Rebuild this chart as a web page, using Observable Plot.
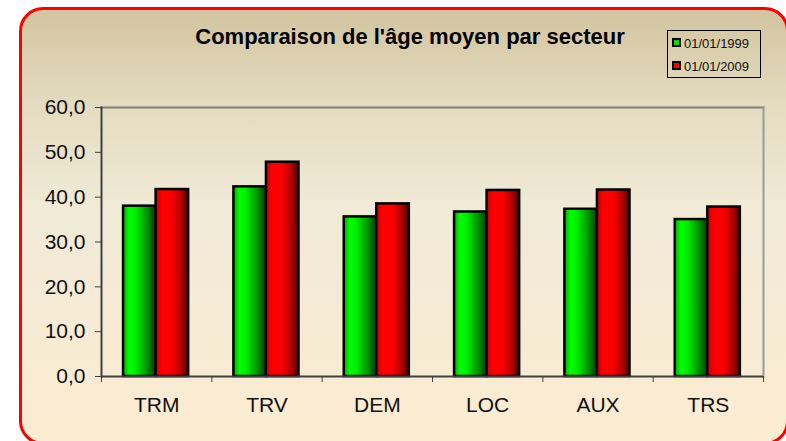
<!DOCTYPE html>
<html>
<head>
<meta charset="utf-8">
<script src="https://cdn.jsdelivr.net/npm/d3@7"></script>
<script src="https://cdn.jsdelivr.net/npm/@observablehq/plot@0.6"></script>
<style>
  html, body { margin: 0; padding: 0; width: 786px; height: 441px; overflow: hidden; background: #fff; }
  #wrap { position: relative; width: 786px; height: 441px; font-family: "Liberation Sans", Arial, sans-serif; }
  #panel { position: absolute; left: 19px; top: 7px; width: 770px; height: 438px; box-sizing: border-box;
    border: 3px solid #ff0000; border-radius: 24px;
    background: linear-gradient(to bottom, #d2c49f 0%, #e4dcc0 22%, #f0ead6 45%, #f4ead6 60%, #fcecd1 100%); }
  #title { position: absolute; left: 410px; top: 26px; transform: translateX(-50%); white-space: nowrap;
    font-weight: bold; font-size: 22px; line-height: 22px; color: #000; }
  #legend { position: absolute; left: 667px; top: 30px; width: 94px; height: 48px; box-sizing: border-box;
    border: 1px solid #000; font-size: 13px; color: #111; }
  .item { position: absolute; left: 4px; height: 14px; line-height: 14px; white-space: nowrap; }
  .sw { display: inline-block; width: 5px; height: 5px; border: 2px solid #000; margin-right: 3px; vertical-align: 1px; }
  #chart { position: absolute; left: 0; top: 0; }
</style>
</head>
<body>
<div id="wrap">
  <div id="panel"></div>
  <div id="chart"></div>
  <div id="title"></div>
  <div id="legend"></div>
</div>
<script>
// ---- data ----
const title = "Comparaison de l'âge moyen par secteur";
const categories = ["TRM", "TRV", "DEM", "LOC", "AUX", "TRS"];
const seriesNames = ["01/01/1999", "01/01/2009"];
const values1999 = [38.0, 42.3, 35.6, 36.7, 37.3, 35.0];
const values2009 = [41.7, 47.8, 38.5, 41.5, 41.6, 37.8];
const yTicks = [0, 10, 20, 30, 40, 50, 60];

const data1999 = categories.map((c, i) => ({cat: c, v: values1999[i]}));
const data2009 = categories.map((c, i) => ({cat: c, v: values2009[i]}));

const W = 786, H = 441;
const mL = 101, mR = 23, mT = 107, mB = 65;
const bw = (W - mL - mR) / categories.length;
const gap = 0.2 * bw, barW = 0.295 * bw;
const fmt = d => d.toFixed(1).replace(".", ",");

document.getElementById("title").textContent = title;
const leg = document.getElementById("legend");
[["#00e000", 6], ["#ff0000", 29]].forEach(([col, top], i) => {
  const it = document.createElement("div");
  it.className = "item";
  it.style.top = top + "px";
  const sw = document.createElement("span");
  sw.className = "sw";
  sw.style.background = col;
  it.appendChild(sw);
  it.appendChild(document.createTextNode(seriesNames[i]));
  leg.appendChild(it);
});

const chart = Plot.plot({
  width: W, height: H,
  marginLeft: mL, marginRight: mR, marginTop: mT, marginBottom: mB,
  style: {background: "transparent", fontFamily: "'Liberation Sans', Arial, sans-serif", overflow: "visible"},
  x: {domain: categories, padding: 0, round: false, label: null},
  y: {domain: [0, 60], label: null},
  marks: [
    Plot.frame({anchor: "top", stroke: "#808080", strokeWidth: 2}),
    Plot.frame({anchor: "right", stroke: "#9a9a9a", strokeWidth: 2}),
    Plot.barY(data1999, {x: "cat", y: "v", fill: "url(#gGreen)", stroke: "#000", strokeWidth: 2.5,
      insetLeft: gap, insetRight: bw - gap - barW}),
    Plot.barY(data2009, {x: "cat", y: "v", fill: "url(#gRed)", stroke: "#000", strokeWidth: 2.5,
      insetLeft: gap + barW, insetRight: bw - gap - 2 * barW}),
    Plot.frame({anchor: "left", stroke: "#404040", strokeWidth: 2}),
    Plot.ruleY([0], {stroke: "#404040", strokeWidth: 2}),
    Plot.axisY({ticks: yTicks, tickFormat: fmt, tickSize: 6, tickPadding: 10, fontSize: 21,
      stroke: "#404040", fill: "#111", label: null}),
    Plot.axisX({ticks: categories, tickSize: 6, fill: "none", stroke: "#404040", dx: -bw / 2, label: null}),
    Plot.axisX({ticks: [categories[categories.length - 1]], tickSize: 6, fill: "none", stroke: "#404040", dx: bw / 2, label: null}),
    Plot.axisX({ticks: categories, tickSize: 0, tickPadding: 21, fontSize: 21, fill: "#111", label: null})
  ]
});

const svg = d3.select(chart);
const defs = svg.insert("defs", ":first-child");
function grad(id, stops) {
  const g = defs.append("linearGradient").attr("id", id).attr("x1", "0").attr("x2", "1").attr("y1", "0").attr("y2", "0");
  stops.forEach(([o, c]) => g.append("stop").attr("offset", o).attr("stop-color", c));
}
grad("gGreen", [[0, "#00a800"], [0.18, "#00ff00"], [0.38, "#00ef00"], [0.72, "#009800"], [1, "#003c00"]]);
grad("gRed", [[0, "#c80000"], [0.2, "#ff0000"], [0.5, "#fa0000"], [0.78, "#b00000"], [1, "#4a0000"]]);

document.getElementById("chart").appendChild(chart);
</script>
</body>
</html>
